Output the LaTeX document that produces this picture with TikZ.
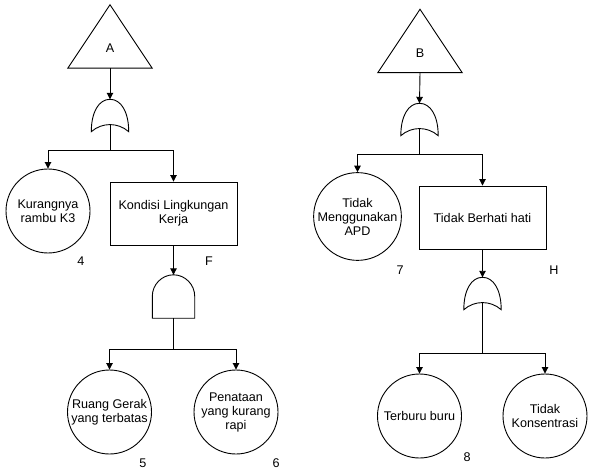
\documentclass[tikz,border=0pt]{standalone}
\usepackage{fontspec}
\setmainfont{Liberation Sans}
\usetikzlibrary{arrows.meta,calc}

% OR gate outline drawn inside an invisible box node
\newcommand\draworgate[1]{%
  \draw[gateline] (#1.south west)
    .. controls ($(#1.south west)+(0,-20)$) and ($(#1.north)+(-11,0)$) .. (#1.north)
    .. controls ($(#1.north)+(11,0)$) and ($(#1.south east)+(0,-20)$) .. (#1.south east)
    .. controls ($(#1.south)+(8,-9.5)$) and ($(#1.south)+(-8,-9.5)$) .. (#1.south west) -- cycle;}
% AND gate outline: straight sides, flat base, round top
\newcommand\drawandgate[1]{%
  \draw[gateline] (#1.south west) -- ($(#1.south west)+(0,-22)$)
    .. controls ($(#1.south west)+(0,-33.6)$) and ($(#1.north)+(-11.6,0)$) .. (#1.north)
    .. controls ($(#1.north)+(11.6,0)$) and ($(#1.south east)+(0,-33.6)$) .. ($(#1.south east)+(0,-22)$)
    -- (#1.south east) -- cycle;}
% top event triangle drawn on an invisible box node
\newcommand\drawtopevent[1]{%
  \draw[gateline] (#1.south west) -- (#1.north) -- (#1.south east) -- cycle;}

\begin{document}
\begin{tikzpicture}[x=1pt,y=-1pt,
  every node/.style={font=\fontsize{12.6}{14}\selectfont, align=center, inner sep=0pt, text=black},
  gateline/.style={draw=black, line width=0.9pt},
  link/.style={draw=black, line width=0.9pt},
  arr/.style={link, -{Triangle[length=6.5pt,width=6.5pt]}},
  basicev/.style={circle, draw=black, line width=0.9pt, minimum size=84pt},
  midev/.style={rectangle, draw=black, line width=0.9pt, minimum width=127pt, minimum height=63pt},
  orbox/.style={rectangle, draw=none, minimum width=37pt, minimum height=32pt},
  andbox/.style={rectangle, draw=none, minimum width=42pt, minimum height=43pt},
  topbox/.style={rectangle, draw=none, minimum width=84pt, minimum height=63pt},
  tag/.style={anchor=center}]

\useasboundingbox (0,0) rectangle (596,470);

% ---------------- tree A ----------------
\node[topbox] (tA) at (110,36.5) {};
\drawtopevent{tA}
\node at ($(tA.south)+(0,-20)$) {A};

\node[orbox] (gA) at (110,115.5) {};
\draworgate{gA}
\coordinate (jA) at (110,150);

\node[basicev] (e4) at (48,211) {Kurangnya\\rambu K3};
\node[midev] (eF) at (173.5,213.5) {Kondisi Lingkungan\\Kerja};
\node[tag] at (81,261) {4};
\node[tag] at (209,261) {F};

\node[andbox] (gF) at (173.5,296.5) {};
\drawandgate{gF}
\coordinate (jF) at (173.5,349);

\node[basicev] (e5) at (109.5,412) {Ruang Gerak\\yang terbatas};
\node[basicev] (e6) at (236,412) {Penataan\\yang kurang\\rapi};
\node[tag] at (143,463) {5};
\node[tag] at (276,463) {6};

\draw[arr] (tA.south) -- (gA.north);
\draw[link] ($(gA.south)+(0,-7)$) -- (jA);
\draw[arr] (jA) -| (e4.north);
\draw[arr] (jA) -| (eF.north);
\draw[arr] (eF.south) -- (gF.north);
\draw[link] (gF.south) -- (jF);
\draw[arr] (jF) -| (e5.north);
\draw[arr] (jF) -| (e6.north);

% ---------------- tree B ----------------
\node[topbox] (tB) at (420,41) {};
\drawtopevent{tB}
\node at ($(tB.south)+(0,-20)$) {B};

\node[orbox] (gB) at (419.5,119.5) {};
\draworgate{gB}
\coordinate (jB) at (419.5,154);

\node[basicev] (e7) at (357.5,216.5) {Tidak\\Menggunakan\\APD};
\node[midev] (eH) at (482.5,217.5) {Tidak Berhati hati};
\node[tag] at (400,270) {7};
\node[tag] at (554,270) {H};

\node[orbox] (gH) at (482.5,293.5) {};
\draworgate{gH}
\coordinate (jH) at (482.5,353);

\node[basicev] (e8) at (419.5,416) {Terburu buru};
\node[basicev] (e9) at (545,416) {Tidak\\Konsentrasi};
\node[tag] at (467,457) {8};

\draw[arr] (tB.south) -- (gB.north);
\draw[link] ($(gB.south)+(0,-7)$) -- (jB);
\draw[arr] (jB) -| (e7.north);
\draw[arr] (jB) -| (eH.north);
\draw[arr] (eH.south) -- (gH.north);
\draw[link] ($(gH.south)+(0,-7)$) -- (jH);
\draw[arr] (jH) -| (e8.north);
\draw[arr] (jH) -| (e9.north);

\end{tikzpicture}
\end{document}
